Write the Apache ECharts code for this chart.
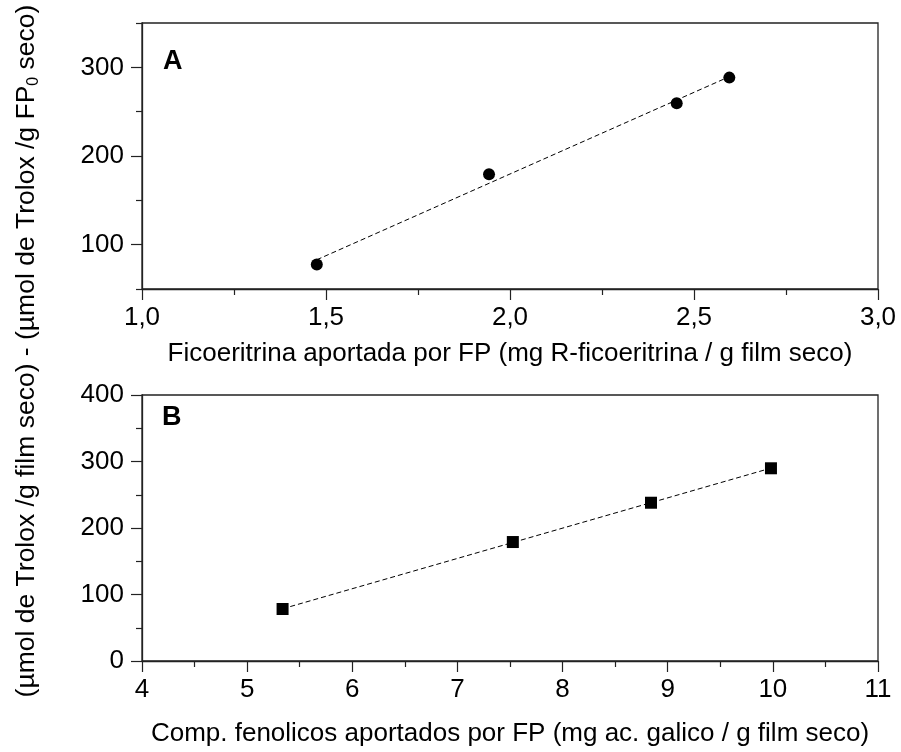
<!DOCTYPE html>
<html>
<head>
<meta charset="utf-8">
<script src="https://cdn.jsdelivr.net/npm/echarts@6/dist/echarts.min.js"></script>
<style>
  html, body { margin: 0; padding: 0; background: #fff; }
  #chart { width: 901px; height: 752px; }
</style>
</head>
<body>
<div id="chart"></div>
<script>
// Panel A: antioxidant capacity vs. R-phycoerythrin supplied by FP
const ficoX = [1.475, 1.943, 2.453, 2.596];
const ficoY = [77.5, 179.4, 259.5, 288.4];

// Panel B: antioxidant capacity vs. phenolic compounds supplied by FP
const fenolX = [5.337, 7.527, 8.841, 9.982];
const fenolY = [78.2, 178.9, 238.0, 289.8];

// Axis ranges, labelled ticks and minor ticks
const axisA = { xMin: 1, xMax: 3, xStep: 0.5, yMin: 50, yMax: 350, yStep: 50 };
const axisAYLabels = [100, 200, 300];
const axisAYMinor = [50, 150, 250, 350];
const axisB = { xMin: 4, xMax: 11, xStep: 1, yMin: 0, yMax: 400, yStep: 100 };

// Least-squares straight line through a point set, drawn across the data's x span
function fitLine(xs, ys) {
  const n = xs.length;
  const mx = xs.reduce((a, b) => a + b, 0) / n;
  const my = ys.reduce((a, b) => a + b, 0) / n;
  let sxy = 0, sxx = 0;
  for (let i = 0; i < n; i++) {
    sxy += (xs[i] - mx) * (ys[i] - my);
    sxx += (xs[i] - mx) * (xs[i] - mx);
  }
  const b = sxy / sxx, a = my - b * mx;
  const x0 = Math.min(...xs), x1 = Math.max(...xs);
  return [[x0, a + b * x0], [x1, a + b * x1]];
}

const pairs = (xs, ys) => xs.map((x, i) => [x, ys[i]]);

const FONT = 'Arial, "Liberation Sans", Helvetica, sans-serif';
const INK = '#000';
const LINE = '#222';
const TICK = { color: LINE, width: 1.2 };

function xAxisCfg(gi, ax, name, gap, fmt) {
  return {
    type: 'value', gridIndex: gi, min: ax.xMin, max: ax.xMax, interval: ax.xStep,
    name: name, nameLocation: 'middle', nameGap: gap,
    nameTextStyle: { color: INK, fontSize: 26, fontFamily: FONT },
    axisLine: { show: true, onZero: false, lineStyle: { color: LINE, width: 1.3 } },
    axisTick: { show: true, length: 11, lineStyle: TICK },
    minorTick: { show: true, splitNumber: 2, length: 6, lineStyle: TICK },
    axisLabel: { color: INK, fontSize: 26, fontFamily: FONT, margin: 16, formatter: fmt },
    splitLine: { show: false }
  };
}

const yLabelStyle = { color: INK, fontSize: 26, fontFamily: FONT, margin: 18 };
const commaFmt = v => v.toFixed(1).replace('.', ',');

const chart = echarts.init(document.getElementById('chart'), null, { renderer: 'canvas' });

chart.setOption({
  backgroundColor: '#fff',
  animation: false,
  grid: [
    { left: 142, top: 23, width: 736, height: 266, show: true, borderColor: LINE, borderWidth: 1.3, backgroundColor: 'transparent' },
    { left: 142, top: 395, width: 736, height: 266, show: true, borderColor: LINE, borderWidth: 1.3, backgroundColor: 'transparent' }
  ],
  xAxis: [
    xAxisCfg(0, axisA, 'Ficoeritrina aportada por FP (mg R-ficoeritrina / g film seco)', 52, commaFmt),
    xAxisCfg(1, axisB, 'Comp. fenolicos aportados por FP (mg ac. galico / g film seco)', 60, v => String(v))
  ],
  yAxis: [
    {
      type: 'value', gridIndex: 0, position: 'left', min: axisA.yMin, max: axisA.yMax, interval: axisA.yStep,
      axisLine: { show: true, onZero: false, lineStyle: { color: LINE, width: 1.3 } },
      axisTick: { show: true, length: 11, lineStyle: TICK, customValues: axisAYLabels },
      axisLabel: Object.assign({ customValues: axisAYLabels }, yLabelStyle),
      splitLine: { show: false }
    },
    {
      type: 'value', gridIndex: 1, position: 'left', min: axisB.yMin, max: axisB.yMax, interval: axisB.yStep,
      axisLine: { show: true, onZero: false, lineStyle: { color: LINE, width: 1.3 } },
      axisTick: { show: true, length: 11, lineStyle: TICK },
      minorTick: { show: true, splitNumber: 2, length: 6, lineStyle: TICK },
      axisLabel: yLabelStyle,
      splitLine: { show: false }
    },
    {
      // short unlabelled ticks for panel A's y axis
      type: 'value', gridIndex: 0, position: 'left', offset: 0,
      min: axisA.yMin, max: axisA.yMax, interval: axisA.yStep,
      axisLine: { show: false },
      axisTick: { show: true, length: 6, lineStyle: TICK, customValues: axisAYMinor },
      axisLabel: { show: false },
      splitLine: { show: false }
    }
  ],
  graphic: [
    {
      type: 'text', left: 163, top: 48,
      style: { text: 'A', fontSize: 27, fontWeight: 'bold', fontFamily: FONT, fill: INK }
    },
    {
      type: 'text', left: 162, top: 404,
      style: { text: 'B', fontSize: 27, fontWeight: 'bold', fontFamily: FONT, fill: INK }
    },
    {
      type: 'text', x: 27, y: 351, rotation: Math.PI / 2,
      style: {
        text: '{t|(µmol de Trolox /g film seco) - (µmol de Trolox /g FP}{s|0}{t| seco)}',
        align: 'center', verticalAlign: 'middle',
        rich: {
          t: { fontSize: 26.5, fontFamily: FONT, fill: INK, lineHeight: 30 },
          s: { fontSize: 16, fontFamily: FONT, fill: INK, lineHeight: 30, verticalAlign: 'bottom', padding: [12, 0, 0, 0] }
        }
      }
    }
  ],
  series: [
    {
      name: 'fitA', type: 'line', xAxisIndex: 0, yAxisIndex: 0,
      data: fitLine(ficoX, ficoY), showSymbol: false, symbol: 'none',
      lineStyle: { color: INK, width: 1, type: [5, 3] }, z: 2
    },
    {
      name: 'A', type: 'scatter', xAxisIndex: 0, yAxisIndex: 0,
      data: pairs(ficoX, ficoY), symbol: 'circle', symbolSize: 12,
      itemStyle: { color: INK, opacity: 1 }, z: 3
    },
    {
      name: 'fitB', type: 'line', xAxisIndex: 1, yAxisIndex: 1,
      data: fitLine(fenolX, fenolY), showSymbol: false, symbol: 'none',
      lineStyle: { color: INK, width: 1, type: [5, 3] }, z: 2
    },
    {
      name: 'B', type: 'scatter', xAxisIndex: 1, yAxisIndex: 1,
      data: pairs(fenolX, fenolY), symbol: 'rect', symbolSize: 12,
      itemStyle: { color: INK, opacity: 1 }, z: 3
    }
  ]
});
</script>
</body>
</html>
